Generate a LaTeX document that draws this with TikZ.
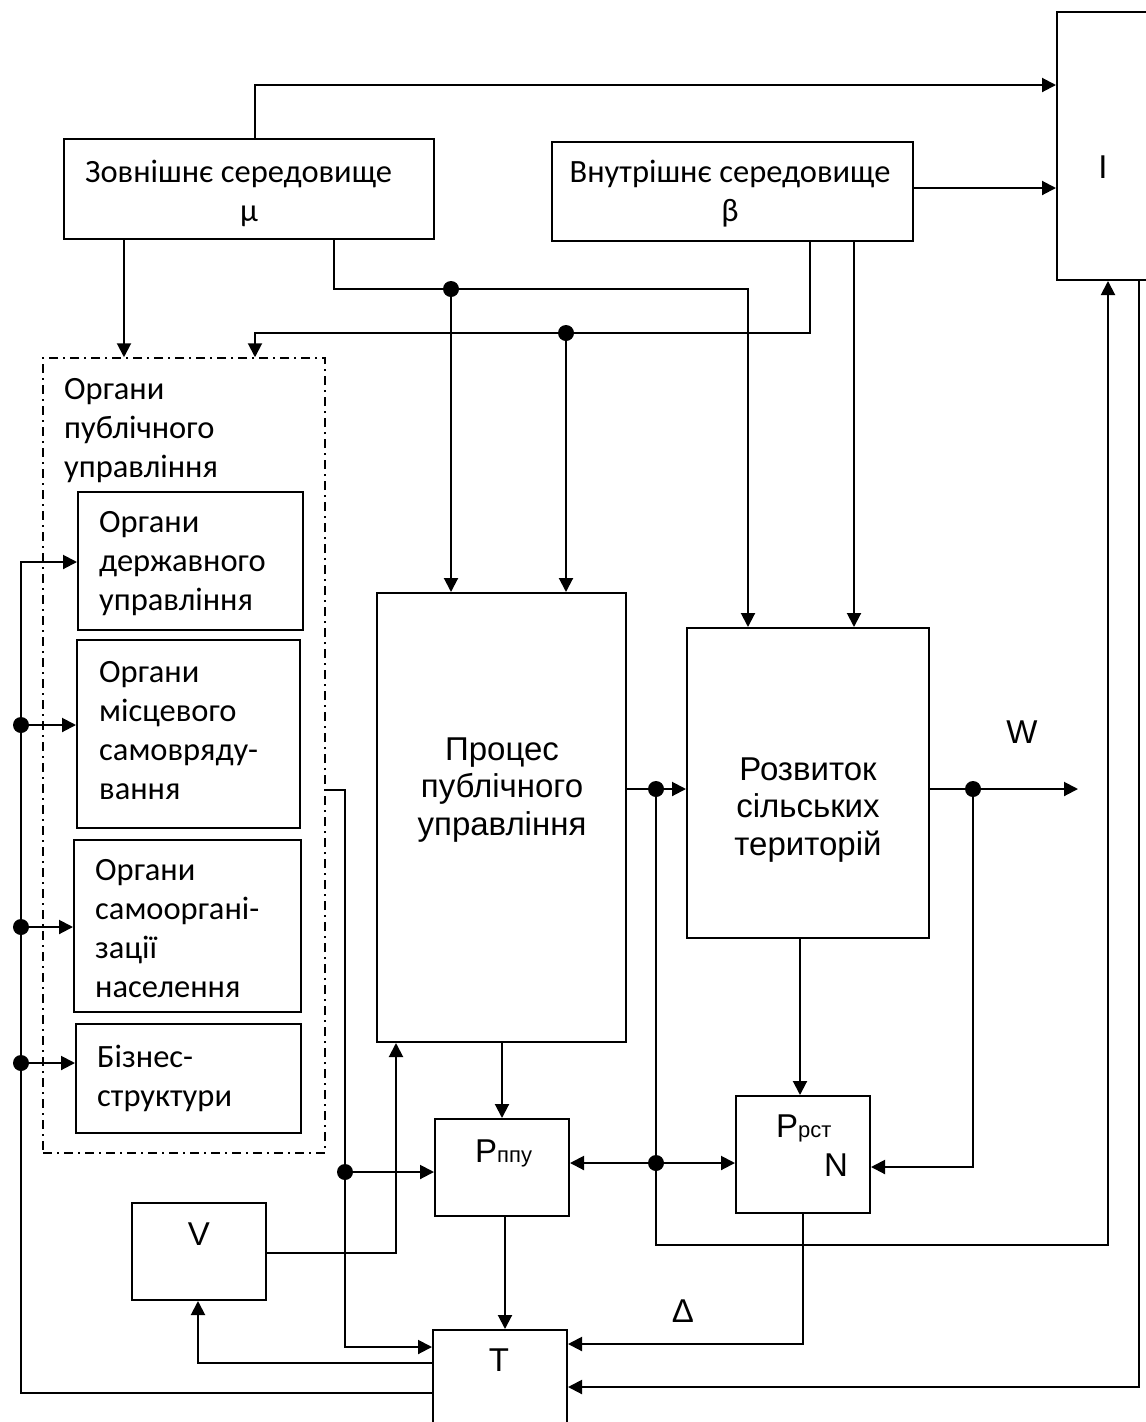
\documentclass[tikz,border=0pt]{standalone}
\usepackage{fontspec}
\newfontfamily\calfont{Carlito}
\newfontfamily\arifont{Liberation Sans}
\usetikzlibrary{arrows.meta,fit}
\begin{document}
\begin{tikzpicture}[x=1pt,y=-1pt,
  box/.style={draw, line width=2pt, inner sep=0pt},
  arr/.style={line width=2pt, -{Triangle[length=14pt,width=14pt]}},
  ctext/.style={inner sep=0pt, font=\calfont\fontsize{32.5}{39}\selectfont, align=left},
  atext/.style={inner sep=0pt, font=\arifont\fontsize{33}{37.5}\selectfont, align=center},
  dot/.style={circle, fill, inner sep=0pt, minimum size=16pt}]
\useasboundingbox (0,0) rectangle (1146,1422);
\clip (0,0) rectangle (1146,1422);

% boxes
\node[box, fit={(64,139) (434,239)}] (zov) {};
\node[box, fit={(552,142) (913,241)}] (vnu) {};
\node[box, fit={(1057,12) (1170,280)}] (I) {};
\node[draw, line width=1.5pt, dash pattern=on 9pt off 5pt on 2pt off 5pt, inner sep=0pt, fit={(43,358) (325,1153)}] (org) {};
\node[box, fit={(78,492) (303,630)}] (b1) {};
\node[box, fit={(77,640) (300,828)}] (b2) {};
\node[box, fit={(74,840) (301,1012)}] (b3) {};
\node[box, fit={(76,1024) (301,1133)}] (b4) {};
\node[box, fit={(377,593) (626,1042)}] (proc) {};
\node[box, fit={(687,628) (929,938)}] (roz) {};
\node[box, fit={(435,1119) (569,1216)}] (pppu) {};
\node[box, fit={(736,1096) (870,1213)}] (prst) {};
\node[box, fit={(132,1203) (266,1300)}] (V) {};
\node[box, fit={(433,1330) (567,1460)}] (T) {};

% texts
\node[ctext, anchor=north west] (zovt) at (85,154.7) {\strut Зовнішнє середовище};
\node[ctext, anchor=base] (mu) at (249,221) {μ};
\node[ctext, align=center, anchor=north] (vnut) at (730,154.7) {\strut Внутрішнє середовище\\β};
\node[ctext, anchor=north west] (orgt) at (64,371.7) {\strut Органи\\публічного\\управління};
\node[ctext, anchor=north west] (b1t) at (99,504.7) {\strut Органи\\державного\\управління};
\node[ctext, anchor=north west] (b2t) at (99,654.7) {\strut Органи\\місцевого\\самовряду-\\вання};
\node[ctext, anchor=north west] (b3t) at (95,852.7) {\strut Органи\\самооргані-\\зації\\населення};
\node[ctext, anchor=north west] (b4t) at (97,1039.7) {\strut Бізнес-\\структури};
\node[atext, anchor=north] (proct) at (502,733.75) {\strut Процес\\публічного\\управління};
\node[atext, anchor=north] (rozt) at (808,753.75) {\strut Розвиток\\сільських\\територій};
\node[atext, anchor=base west] (pppt) at (475,1162) {P{\fontsize{22}{24}\selectfont ппу}};
\node[atext, anchor=base west] (prstt) at (776,1137) {P{\fontsize{22}{24}\selectfont рст}};
\node[atext, anchor=base west] (nt) at (824,1176) {N};
\node[atext, anchor=base] (vt) at (199,1245) {V};
\node[atext, anchor=base] (tt) at (499,1371) {T};
\node[atext, anchor=base] (it) at (1103,178) {I};
\node[atext, anchor=base] (wt) at (1022,743) {W};
\node[atext, anchor=base] (dt) at (683,1322) {Δ};

% junctions
\node[dot] (j4) at (451,289) {};
\node[dot] (j5) at (566,333) {};
\node[dot] (j6) at (656,789) {};
\node[dot] (j7) at (656,1163) {};
\node[dot] (j8) at (973,789) {};
\node[dot] (j9) at (345,1172) {};
\node[dot] (j1) at (21,725) {};
\node[dot] (j2) at (21,927) {};
\node[dot] (j3) at (21,1063) {};
\coordinate (c1) at (748,289);
\coordinate (c2) at (255,333);
\coordinate (wout) at (1078,789);
\coordinate (bustop) at (21,562);

% connectors
\draw[arr] (255,0 |- zov.north) |- (I.west |- 0,85);
\draw[arr] (vnu.east |- 0,188) -- (I.west |- 0,188);
\draw[arr] (124,0 |- zov.south) -- (124,0 |- org.north);
\draw[arr] (334,0 |- zov.south) |- (c1) -- (c1 |- roz.north);
\draw[arr] (j4) -- (j4 |- proc.north);
\draw[arr] (810,0 |- vnu.south) |- (c2) -- (c2 |- org.north);
\draw[arr] (j5) -- (j5 |- proc.north);
\draw[arr] (854,0 |- vnu.south) -- (854,0 |- roz.north);
\draw[arr] (proc.east |- 0,789) -- (roz.west |- 0,789);
\draw[arr] (j6) -- (656,1245) -| (1108,0 |- I.south);
\draw[arr] (j7) -- (pppu.east |- j7);
\draw[arr] (j7) -- (prst.west |- j7);
\draw[arr] (roz.east |- wout) -- (wout);
\draw[arr] (j8) |- (prst.east |- 0,1167);
\draw[arr] (800,0 |- roz.south) -- (800,0 |- prst.north);
\draw[arr] (803,0 |- prst.south) |- (T.east |- 0,1344);
\draw[arr] (1139,0 |- I.south) |- (T.east |- 0,1387);
\draw[arr] (502,0 |- proc.south) -- (502,0 |- pppu.north);
\draw[arr] (505,0 |- pppu.south) -- (505,0 |- T.north);
\draw[arr] (org.east |- 0,790) -- (345,790) |- (T.west |- 0,1347);
\draw[arr] (j9) -- (pppu.west |- j9);
\draw[arr] (V.east |- 0,1253) -| (396,0 |- proc.south);
\draw[arr] (T.west |- 0,1363) -| (198,0 |- V.south);
\draw[arr] (T.west |- 0,1393) -| (bustop) -- (b1.west |- bustop);
\draw[arr] (j1) -- (b2.west |- j1);
\draw[arr] (j2) -- (b3.west |- j2);
\draw[arr] (j3) -- (b4.west |- j3);
\end{tikzpicture}
\end{document}
